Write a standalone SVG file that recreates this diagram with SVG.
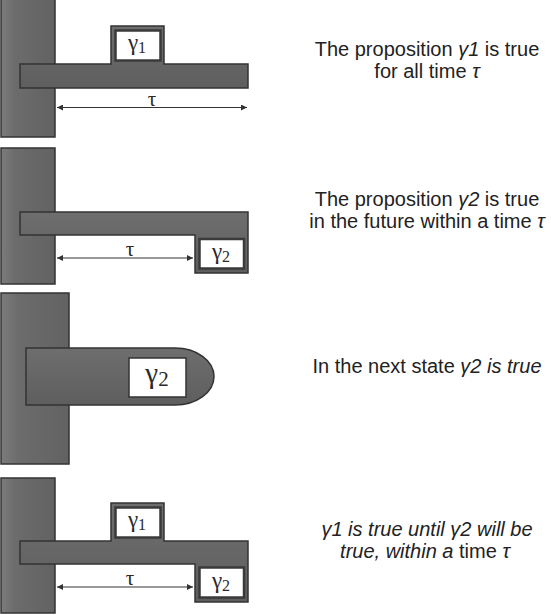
<svg xmlns="http://www.w3.org/2000/svg" width="551" height="615" viewBox="0 0 551 615">
<defs>
<linearGradient id="gv" x1="0" y1="0" x2="1" y2="0">
<stop offset="0" stop-color="#7c7c7c"/><stop offset="0.25" stop-color="#6c6c6c"/><stop offset="1" stop-color="#626262"/>
</linearGradient>
<linearGradient id="gh" x1="0" y1="0" x2="0" y2="1">
<stop offset="0" stop-color="#6e6e6e"/><stop offset="1" stop-color="#5e5e5e"/>
</linearGradient>
<marker id="ah" viewBox="0 0 10 10" refX="10" refY="5" markerWidth="8" markerHeight="6" markerUnits="userSpaceOnUse" orient="auto-start-reverse">
<path d="M0,0 L10,5 L0,10 Z" fill="#333"/>
</marker>
</defs>
<style>
.vbar{fill:url(#gv);stroke:#333;stroke-width:1.5}
.hbar{fill:url(#gh);stroke:#333;stroke-width:1.5}
.win{fill:#fff;stroke:#3a3a3a;stroke-width:2.5}
.win3{fill:#fff;stroke:#333;stroke-width:1.5}
.g{font-family:"Liberation Serif","Times New Roman",serif;fill:#2a2a2a;text-anchor:middle}
.cap{font-family:"Liberation Sans",Arial,sans-serif;font-size:20px;fill:#222;text-anchor:middle}
.it{font-style:italic}
.dim{stroke:#333;stroke-width:1;fill:none;marker-start:url(#ah);marker-end:url(#ah)}
</style>

<g id="panel1">
<rect class="vbar" x="1" y="-2" width="54" height="139"/>
<path class="hbar" d="M20,64 H111 V26 H164 V64 H248 V88 H20 Z"/>
<rect class="win" x="115.5" y="30.5" width="45" height="30"/>
<text class="g" x="137" y="50" font-size="23">γ<tspan font-size="16" dy="3">1</tspan></text>
<text class="g" x="152" y="106" font-size="21">τ</text>
<text class="cap" x="427" y="56">The proposition <tspan class="it">γ1</tspan> is true</text>
<text class="cap" x="427" y="78">for all time <tspan class="it">τ</tspan></text>
</g>

<g id="panel2">
<rect class="vbar" x="1" y="148" width="54" height="136"/>
<path class="hbar" d="M20,212 H248 V273 H195 V235 H20 Z"/>
<rect class="win" x="199.5" y="239" width="44.5" height="29.5"/>
<text class="g" x="221" y="259" font-size="23">γ<tspan font-size="16" dy="3">2</tspan></text>
<text class="g" x="130" y="256" font-size="21">τ</text>
<text class="cap" x="427" y="206">The proposition <tspan class="it">γ2</tspan> is true</text>
<text class="cap" x="427" y="228">in the future within a time <tspan class="it">τ</tspan></text>
</g>

<g id="panel3">
<rect class="vbar" x="1" y="293" width="68" height="171"/>
<path class="hbar" d="M26,348 H175 A39,28.5 0 0 1 175,405 H26 Z"/>
<rect class="win3" x="129" y="358" width="57" height="39"/>
<text class="g" x="157" y="383" font-size="29">γ<tspan font-size="21" dy="3">2</tspan></text>
<text class="cap" x="427" y="373">In the next state <tspan class="it">γ2 is true</tspan></text>
</g>

<g id="panel4">
<rect class="vbar" x="1" y="478" width="54" height="135"/>
<path class="hbar" d="M20,541 H111 V503 H164 V541 H248 V602 H195 V564 H20 Z"/>
<rect class="win" x="115.5" y="507.5" width="45" height="30"/>
<text class="g" x="137" y="527" font-size="23">γ<tspan font-size="16" dy="3">1</tspan></text>
<rect class="win" x="199.5" y="567.5" width="44.5" height="30"/>
<text class="g" x="221" y="588" font-size="23">γ<tspan font-size="16" dy="3">2</tspan></text>
<text class="g" x="130" y="585" font-size="21">τ</text>
<text class="cap it" x="427" y="536">γ1 is true until γ2 will be</text>
<text class="cap" x="425" y="558"><tspan class="it">true, within a </tspan>time<tspan class="it"> τ</tspan></text>
</g>

<g id="connectors">
<line class="dim" x1="57" y1="107.5" x2="247" y2="107.5"/>
<line class="dim" x1="57" y1="258" x2="193" y2="258"/>
<line class="dim" x1="57" y1="587" x2="193" y2="587"/>
</g>
</svg>
